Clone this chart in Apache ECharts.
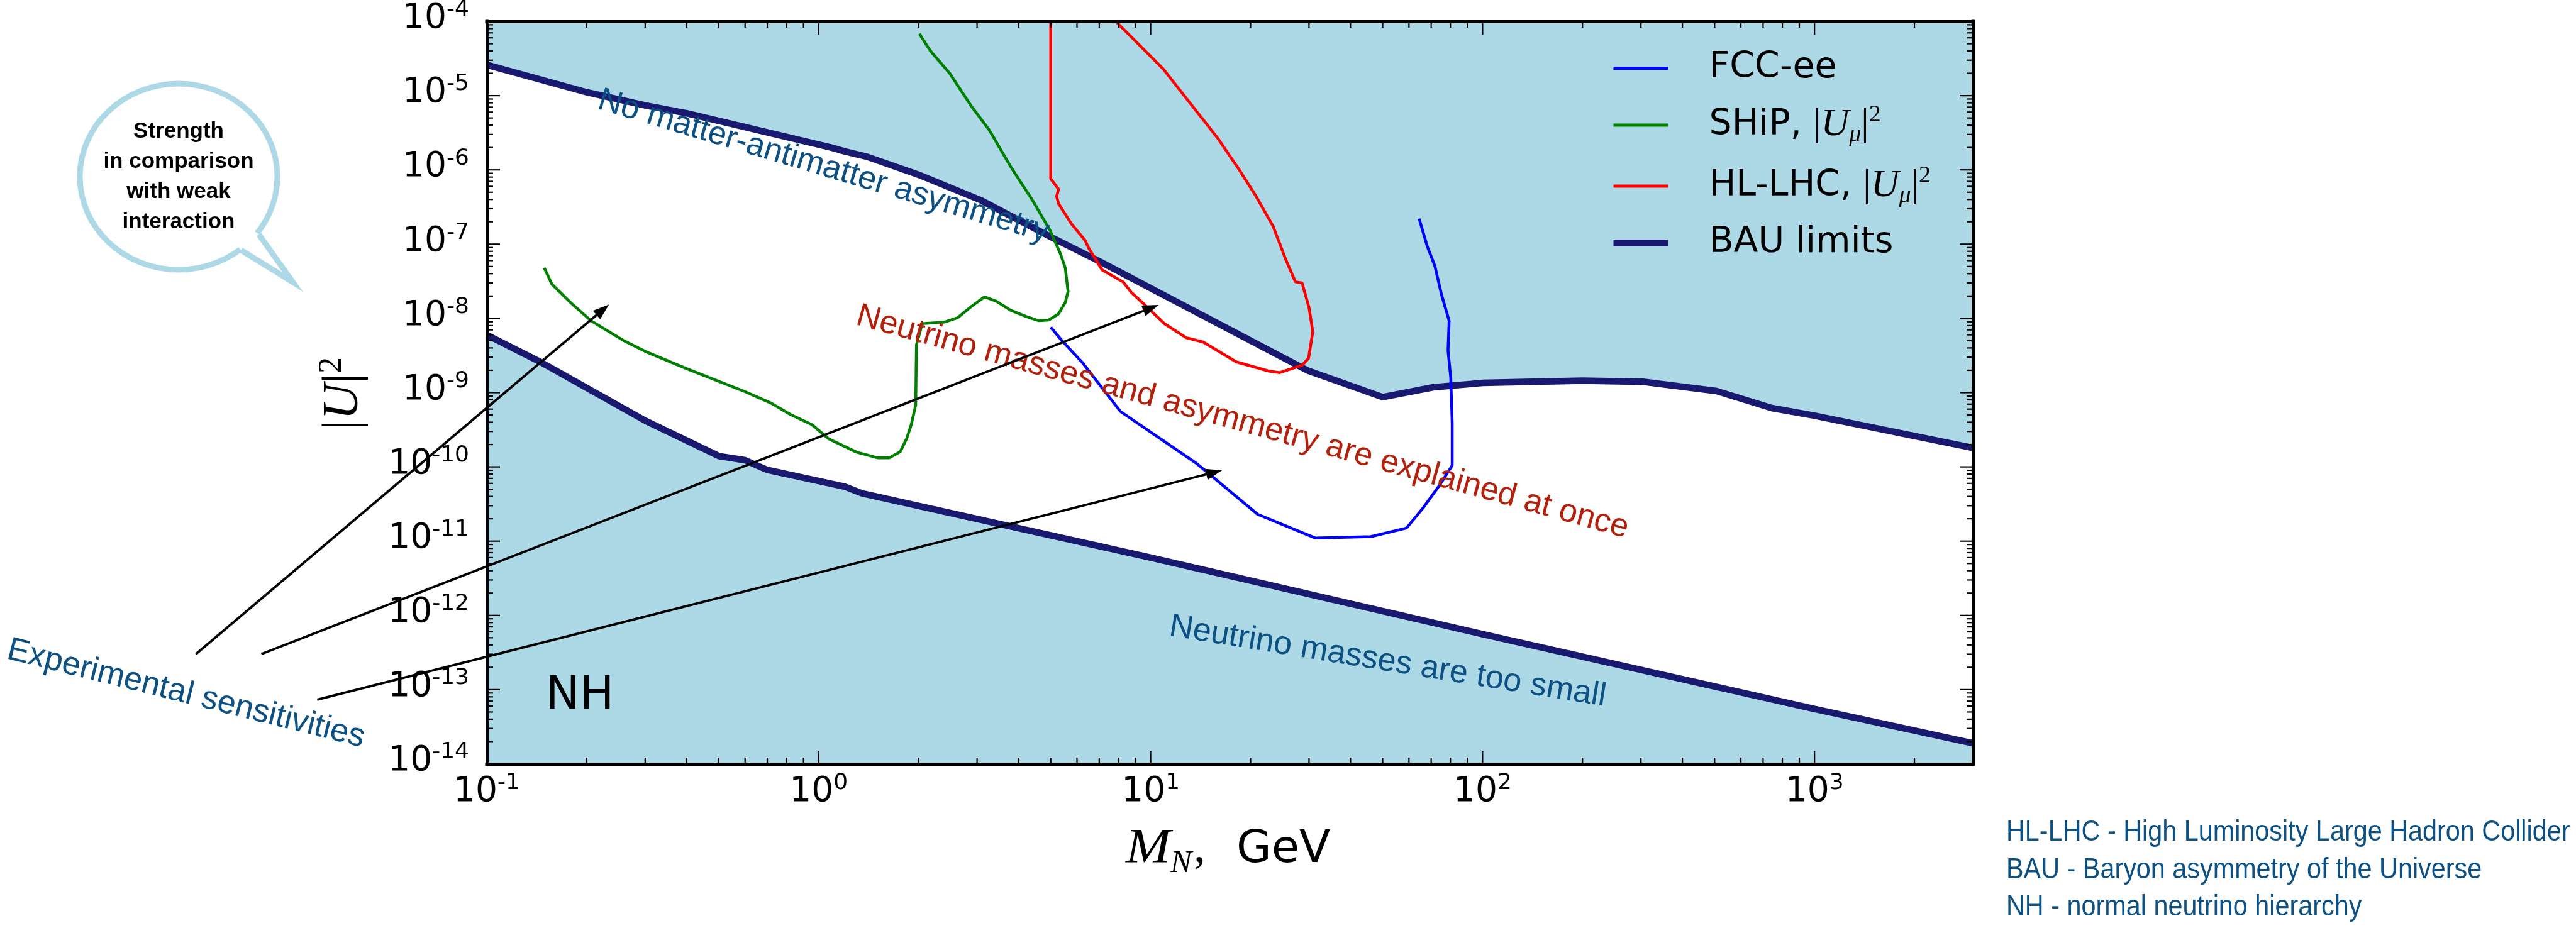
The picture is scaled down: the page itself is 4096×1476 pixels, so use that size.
<!DOCTYPE html>
<html>
<head>
<meta charset="utf-8">
<title>Heavy neutral leptons: BAU limits and sensitivities</title>
<script src="https://cdn.jsdelivr.net/npm/echarts@6/dist/echarts.min.js"></script>
<style>
html, body { margin: 0; padding: 0; background: #fff; }
#main { width: 4096px; height: 1476px; }
</style>
</head>
<body>
<div id="main"></div>
<script>
// major ticks (decades) and minor multipliers
var xTicks = [0.1, 1, 10, 100, 1000];
var yTicks = [1e-14, 1e-13, 1e-12, 1e-11, 1e-10, 1e-9, 1e-8, 1e-7, 1e-6, 1e-5, 1e-4];
var minorSteps = [2, 3, 4, 5, 6, 7, 8, 9];

// [M_N (GeV), |U|^2]
var bauUpper = [
  [0.1, 2.6e-5], [0.2, 1.11e-5], [0.3, 7.4e-6], [0.4, 5.8e-6], [1.09, 2.0e-6], [1.2, 1.77e-6],
  [1.4, 1.5e-6], [2.0, 8.6e-7], [3.08, 3.9e-7], [5.0, 1.25e-7], [7.1, 5.7e-8], [29.6, 2.0e-9],
  [50, 8.7e-10], [71, 1.18e-9], [100, 1.35e-9], [200, 1.45e-9], [305, 1.4e-9], [507, 1.05e-9],
  [743, 6.2e-10], [1000, 4.9e-10], [3000, 1.8e-10]
];
var bauLower = [
  [0.1, 6.0e-9], [0.146, 2.55e-9], [0.3, 4.2e-10], [0.5, 1.4e-10], [0.6, 1.23e-10], [0.7, 9.1e-11],
  [1.2, 5.4e-11], [1.35, 4.4e-11], [10, 6.0e-12], [100, 5.6e-13], [1000, 5.5e-14], [3000, 1.9e-14]
];
var fccee = [
  [5.0, 7.6e-9], [5.43, 4.9e-9], [6.2, 2.6e-9], [8.1, 5.6e-10], [11.0, 2.2e-10], [13.8, 1.1e-10],
  [21.0, 2.3e-11], [31.4, 1.1e-11], [46.1, 1.15e-11], [59, 1.5e-11], [66.2, 2.8e-11], [74.3, 5.7e-11],
  [81, 1.05e-10], [81, 3.9e-10], [80.2, 1.57e-9], [78.7, 3.7e-9], [79.3, 9.3e-9], [75.2, 2.1e-8],
  [71.8, 5.1e-8], [68.1, 9.4e-8], [64.4, 2.2e-7]
];
var ship = [
  [0.149, 4.8e-8], [0.157, 2.9e-8], [0.179, 1.63e-8], [0.206, 9.3e-9], [0.257, 5.1e-9], [0.30, 3.6e-9],
  [0.40, 2.1e-9], [0.60, 1.03e-9], [0.72, 7.2e-10], [0.82, 5.1e-10], [0.955, 3.7e-10], [1.07, 2.4e-10],
  [1.30, 1.58e-10], [1.51, 1.32e-10], [1.63, 1.32e-10], [1.76, 1.6e-10], [1.84, 2.4e-10], [1.90, 3.7e-10],
  [1.96, 6.8e-10], [1.97, 4.4e-9], [2.05, 8.5e-9], [2.39, 8.9e-9], [2.62, 1.02e-8], [2.89, 1.46e-8],
  [3.16, 1.95e-8], [3.43, 1.7e-8], [3.78, 1.29e-8], [4.24, 1.05e-8], [4.61, 9.3e-9], [4.93, 9.5e-9],
  [5.28, 1.15e-8], [5.53, 1.64e-8], [5.64, 2.3e-8], [5.53, 4.8e-8], [5.35, 7.4e-8], [4.97, 1.55e-7],
  [4.39, 4.0e-7], [3.78, 1.12e-6], [3.27, 3.4e-6], [2.89, 7.1e-6], [2.48, 2.0e-5], [2.17, 4.0e-5],
  [2.01, 6.8e-5]
];
var hllhc = [
  [5.0, 1.0e-4], [5.0, 7.6e-7], [5.28, 5.5e-7], [5.21, 4.4e-7], [5.28, 3.5e-7], [5.76, 1.9e-7],
  [6.35, 1.12e-7], [6.5, 8.9e-8], [7.14, 4.5e-8], [8.26, 3.1e-8], [8.75, 2.24e-8], [9.62, 1.51e-8],
  [11.0, 8.5e-9], [12.8, 5.5e-9], [14.4, 4.8e-9], [18.1, 2.6e-9], [22.7, 1.95e-9], [24.5, 1.86e-9],
  [28.6, 2.34e-9], [29.9, 2.9e-9], [30.8, 6.6e-9], [30.0, 1.4e-8], [28.6, 3.0e-8], [27.3, 3.1e-8],
  [25.5, 6.3e-8], [23.4, 1.73e-7], [20.6, 4.7e-7], [18.5, 1.0e-6], [16.0, 2.6e-6], [10.9, 2.3e-5],
  [7.85, 1.0e-4]
];

var BLUE_TXT = '#0d5184';
var RED_TXT = '#b3200c';
var LIGHT = '#add8e6';

var chart = echarts.init(document.getElementById('main'));

var tickStyle = { stroke: '#000', lineWidth: 2.2 };
var tickRich = {
  b: { font: '55px "DejaVu Sans"', lineHeight: 64, fill: '#000' },
  s: { font: '36px "DejaVu Sans"', verticalAlign: 'top', fill: '#000' }
};

function powLabel(v) {
  var e = Math.round(Math.log10(v));
  return '{b|10}{s|' + e + '}';
}

function minorOf(ticks, maxVal) {
  var out = [];
  ticks.forEach(function (d) {
    minorSteps.forEach(function (k) {
      var v = d * k;
      if (v < maxVal) out.push(v);
    });
  });
  return out;
}
var xMinor = minorOf(xTicks, 3000);
var yMinor = minorOf(yTicks, 1e-4);

function tickSeries(values, isX, major) {
  var data = values.map(function (v) { return isX ? [v, yTicks[0]] : [xTicks[0], v]; });
  return {
    type: 'custom', silent: true, clip: false, z: 12, data: data,
    renderItem: function (params, api) {
      var cs = params.coordSys;
      var p = api.coord([api.value(0), api.value(1)]);
      var len = major ? 21 : 10;
      var kids = [];
      if (isX) {
        var b = cs.y + cs.height, t = cs.y;
        kids.push({ type: 'line', shape: { x1: p[0], y1: b, x2: p[0], y2: b - len }, style: tickStyle });
        kids.push({ type: 'line', shape: { x1: p[0], y1: t, x2: p[0], y2: t + len }, style: tickStyle });
        if (major) {
          kids.push({ type: 'text', x: p[0], y: b + 13,
            style: { text: powLabel(api.value(0)), align: 'center', verticalAlign: 'top', rich: tickRich } });
        }
      } else {
        var l = cs.x, r = cs.x + cs.width;
        kids.push({ type: 'line', shape: { x1: l, y1: p[1], x2: l + len, y2: p[1] }, style: tickStyle });
        kids.push({ type: 'line', shape: { x1: r, y1: p[1], x2: r - len, y2: p[1] }, style: tickStyle });
        if (major) {
          kids.push({ type: 'text', x: l - 28, y: p[1] - 4,
            style: { text: powLabel(api.value(1)), align: 'right', verticalAlign: 'middle', rich: tickRich } });
        }
      }
      return { type: 'group', children: kids };
    }
  };
}

function rotText(str, bx, by, deg, size, color) {
  var a = deg * Math.PI / 180, off = 0.35 * size;
  return {
    type: 'text', x: bx + off * Math.sin(a), y: by - off * Math.cos(a), rotation: -a, z: 30,
    style: { text: str, font: size + 'px "Liberation Sans", Arial, sans-serif', fill: color,
      align: 'left', verticalAlign: 'middle' }
  };
}

function plainText(str, x, baseline, font, size, color, align, sx) {
  return {
    type: 'text', x: x, y: baseline - 0.34 * size, z: 30, scaleX: sx || 1,
    style: { text: str, font: font, fill: color || '#000', align: align || 'left', verticalAlign: 'middle' }
  };
}

function arrow(tx, ty, px, py) {
  var dx = px - tx, dy = py - ty, L = Math.sqrt(dx * dx + dy * dy);
  var ux = dx / L, uy = dy / L, nx = -uy, ny = ux;
  var hl = 26, hw = 9;
  var bx = px - ux * hl, by = py - uy * hl;
  return [
    { type: 'line', z: 30, shape: { x1: tx, y1: ty, x2: bx + ux * 2, y2: by + uy * 2 },
      style: { stroke: '#000', lineWidth: 3.8 } },
    { type: 'polygon', z: 30, shape: { points: [[px, py], [bx + nx * hw, by + ny * hw], [bx - nx * hw, by - ny * hw]] },
      style: { fill: '#000' } }
  ];
}

// speech bubble
var bc = [284, 281], brx = 157, bry = 148;
var tipA = [411.6, 372.8], tipP = [465.6, 448.7], tipB = [383.3, 397.9];
function inward(p, d) {
  var vx = bc[0] - p[0], vy = bc[1] - p[1], L = Math.sqrt(vx * vx + vy * vy);
  return [p[0] + vx / L * d, p[1] + vy / L * d];
}

var NOTE_FONT = '47px "Liberation Sans", Arial';

var graphics = [
  { type: 'ellipse', z: 25, shape: { cx: bc[0], cy: bc[1], rx: brx, ry: bry },
    style: { fill: '#fff', stroke: LIGHT, lineWidth: 9 } },
  { type: 'polygon', z: 26, shape: { points: [inward(tipA, 14), tipA, tipP, tipB, inward(tipB, 14)] },
    style: { fill: '#fff' } },
  { type: 'polyline', z: 27, shape: { points: [tipA, tipP, tipB] },
    style: { stroke: LIGHT, lineWidth: 9, fill: null, lineJoin: 'miter' } },
  { type: 'text', z: 28, x: bc[0], y: 281,
    style: { text: 'Strength\nin comparison\nwith weak\ninteraction', font: 'bold 35px "Liberation Sans", Arial',
      fill: '#000', align: 'center', verticalAlign: 'middle', lineHeight: 48 } },

  rotText('No matter-antimatter asymmetry', 947, 175.9, 16.6, 52, BLUE_TXT),
  rotText('Neutrino masses and asymmetry are explained at once', 1358, 519.3, 15.5, 52, RED_TXT),
  rotText('Neutrino masses are too small', 1857, 1014.4, 9.2, 52, BLUE_TXT),
  rotText('Experimental sensitivities', 8, 1050.7, 14.0, 52, BLUE_TXT),

  plainText('NH', 922, 1132.7, '72.6px "DejaVu Sans"', 72.6, '#000', 'center'),

  plainText('HL-LHC - High Luminosity Large Hadron Collider', 3190, 1340, NOTE_FONT, 47, BLUE_TXT, 'left', 0.88),
  plainText('BAU - Baryon asymmetry of the Universe', 3190, 1400, NOTE_FONT, 47, BLUE_TXT, 'left', 0.88),
  plainText('NH - normal neutrino hierarchy', 3190, 1459, NOTE_FONT, 47, BLUE_TXT, 'left', 0.88),

  // axis titles
  { type: 'text', z: 30, x: 547, y: 626, rotation: Math.PI / 2,
    style: { text: '{b||}{u|U}{b||}{s|2}', align: 'center', verticalAlign: 'middle',
      rich: {
        b: { font: '80px "Liberation Serif"', lineHeight: 90, fill: '#000' },
        u: { font: 'italic 80px "Liberation Serif"', lineHeight: 90, fill: '#000' },
        s: { font: '52px "Liberation Serif"', verticalAlign: 'top', fill: '#000' }
      } } },
  plainText('M', 1790, 1377, 'italic 78px "Liberation Serif"', 78, '#000', 'left', 1.1),
  plainText('N', 1861, 1391, 'italic 51px "Liberation Serif"', 51),
  plainText(',', 1898, 1377, '76px "Liberation Serif"', 76),
  plainText('GeV', 1966, 1377, '72px "DejaVu Sans"', 72)
];
graphics = graphics
  .concat(arrow(311.5, 1040.2, 968.4, 484.2))
  .concat(arrow(415.6, 1040.2, 1842.4, 485.0))
  .concat(arrow(504.4, 1112.9, 1943.3, 748.1));

function logAxis(min, max, pos) {
  return {
    type: 'log', logBase: 10, min: min, max: max, position: pos, z: 10,
    axisLine: { show: true, onZero: false, lineStyle: { color: '#000', width: 5, cap: 'square' } },
    axisTick: { show: false }, axisLabel: { show: false }, splitLine: { show: false }
  };
}

var legendText = {
  'FCC-ee': '{t|FCC-ee}',
  'SHiP': '{t|SHiP, }{bar||}{u|U}{mu|μ}{bar||}{sup|2}',
  'HL-LHC': '{t|HL-LHC, }{bar||}{u|U}{mu|μ}{bar||}{sup|2}',
  'BAU limits': '{t|BAU limits}'
};

var option = {
  animation: false,
  backgroundColor: '#fff',
  grid: { left: 774, top: 34, width: 2363, height: 1181, show: true, backgroundColor: LIGHT, borderWidth: 0 },
  xAxis: [logAxis(0.1, 3000, 'bottom'), logAxis(0.1, 3000, 'top')],
  yAxis: [logAxis(1e-14, 1e-4, 'left'), logAxis(1e-14, 1e-4, 'right')],
  legend: {
    orient: 'vertical', left: 2555, top: 75, itemWidth: 87, itemHeight: 2, itemGap: 27,
    selectedMode: false,
    data: [
      { name: 'FCC-ee', lineStyle: { width: 5 } },
      { name: 'SHiP', lineStyle: { width: 5 } },
      { name: 'HL-LHC', lineStyle: { width: 5 } },
      { name: 'BAU limits', lineStyle: { width: 11 } }
    ],
    formatter: function (name) { return legendText[name]; },
    textStyle: {
      color: '#000', fontFamily: 'DejaVu Sans', fontSize: 57, padding: [0, 0, 0, 60],
      rich: {
        t: { fontFamily: 'DejaVu Sans', fontSize: 57, lineHeight: 70, color: '#000' },
        bar: { fontFamily: 'Liberation Serif', fontSize: 62, color: '#000' },
        u: { fontFamily: 'Liberation Serif', fontStyle: 'italic', fontSize: 62, color: '#000' },
        mu: { fontFamily: 'Liberation Serif', fontStyle: 'italic', fontSize: 38, verticalAlign: 'bottom', color: '#000' },
        sup: { fontFamily: 'Liberation Serif', fontSize: 38, verticalAlign: 'top', color: '#000' }
      }
    }
  },
  series: [
    { name: 'fillUpper', type: 'line', data: bauUpper, symbol: 'none', silent: true, z: 1,
      lineStyle: { width: 0 }, areaStyle: { color: '#fff', opacity: 1, origin: 'start' } },
    { name: 'fillLower', type: 'line', data: bauLower, symbol: 'none', silent: true, z: 1,
      lineStyle: { width: 0 }, areaStyle: { color: LIGHT, opacity: 1, origin: 'start' } },
    { name: 'BAU limits', type: 'line', data: bauUpper, symbol: 'none', z: 3,
      lineStyle: { color: '#191970', width: 10.5 }, itemStyle: { color: '#191970' } },
    { name: 'BAU limits', type: 'line', data: bauLower, symbol: 'none', z: 3,
      lineStyle: { color: '#191970', width: 10.5 }, itemStyle: { color: '#191970' } },
    { name: 'FCC-ee', type: 'line', data: fccee, symbol: 'none', z: 4,
      lineStyle: { color: '#0000ff', width: 4.5 }, itemStyle: { color: '#0000ff' } },
    { name: 'SHiP', type: 'line', data: ship, symbol: 'none', z: 4,
      lineStyle: { color: '#008000', width: 4.5 }, itemStyle: { color: '#008000' } },
    { name: 'HL-LHC', type: 'line', data: hllhc, symbol: 'none', z: 4,
      lineStyle: { color: '#ff0000', width: 4.5 }, itemStyle: { color: '#ff0000' } },
    tickSeries(xTicks, true, true),
    tickSeries(xMinor, true, false),
    tickSeries(yTicks, false, true),
    tickSeries(yMinor, false, false)
  ],
  graphic: graphics
};

chart.setOption(option);
</script>
</body>
</html>
